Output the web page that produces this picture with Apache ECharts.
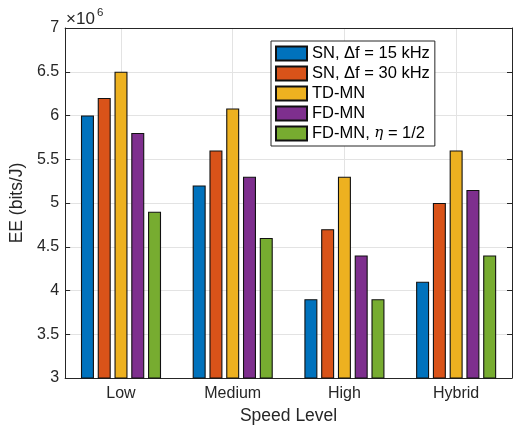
<!DOCTYPE html>
<html>
<head>
<meta charset="utf-8">
<script src="https://cdn.jsdelivr.net/npm/echarts@6/dist/echarts.min.js"></script>
<style>html,body{margin:0;padding:0;background:#fff}#c{width:518px;height:430px}</style>
</head>
<body>
<div id="c"></div>
<script>
const categories = ['Low', 'Medium', 'High', 'Hybrid'];
const seriesNames = ['SN, Δf = 15 kHz', 'SN, Δf = 30 kHz', 'TD-MN', 'FD-MN', 'FD-MN, η = 1/2'];
const snDf15 = [6.0, 5.2, 3.9, 4.1];
const snDf30 = [6.2, 5.6, 4.7, 5.0];
const tdMN = [6.5, 6.08, 5.3, 5.6];
const fdMN = [5.8, 5.3, 4.4, 5.15];
const fdMNHalf = [4.9, 4.6, 3.9, 4.4];
const yTicks = [3, 3.5, 4, 4.5, 5, 5.5, 6, 6.5, 7];
const colors = ['#0072BD', '#D95319', '#EDB120', '#7E2F8E', '#77AC30'];
const seriesData = [snDf15, snDf30, tdMN, fdMN, fdMNHalf];

const FONT = 'Liberation Sans';
const AX = '#262626';
const chart = echarts.init(document.getElementById('c'), null, {renderer: 'canvas'});

const series = seriesData.map((d, i) => ({
  name: seriesNames[i],
  type: 'bar',
  data: d,
  barWidth: 13,
  barGap: '29%',
  itemStyle: {color: colors[i], borderColor: '#111', borderWidth: 1.1},
  emphasis: {disabled: true}
}));

const legendFmt = (name) => {
  if (name.indexOf('η') >= 0) {
    const parts = name.split('η');
    return '{n|' + parts[0] + '}{i|η}{n|' + parts[1] + '}';
  }
  return '{n|' + name + '}';
};

chart.setOption({
  animation: false,
  color: colors,
  textStyle: {fontFamily: FONT},
  grid: {left: 65, right: 6, top: 28, bottom: 51, containLabel: false},
  legend: {
    orient: 'vertical',
    left: 271, top: 41,
    itemWidth: 31, itemHeight: 14, itemGap: 3,
    padding: [4, 5, 4, 4],
    borderColor: AX, borderWidth: 1, borderRadius: 0,
    backgroundColor: '#fff',
    icon: 'rect',
    selectedMode: false,
    data: seriesNames,
    formatter: legendFmt,
    textStyle: {
      fontFamily: FONT, fontSize: 16.5, color: '#000',
      rich: {
        n: {fontFamily: FONT, fontSize: 16.5, color: '#000'},
        i: {fontFamily: 'DejaVu Serif', fontStyle: 'italic', fontSize: 15, color: '#000'}
      }
    }
  },
  xAxis: [{
    type: 'category',
    data: categories,
    boundaryGap: true,
    name: 'Speed Level',
    nameLocation: 'middle',
    nameGap: 29,
    nameTextStyle: {fontFamily: FONT, fontSize: 17.5, color: AX},
    axisLine: {lineStyle: {color: AX, width: 1}},
    axisTick: {inside: true, alignWithLabel: true, length: 5, lineStyle: {color: AX}},
    axisLabel: {fontFamily: FONT, fontSize: 16, color: AX, margin: 8},
    splitLine: {show: true, alignWithLabel: true, lineStyle: {color: '#e3e3e3', width: 1}}
  }, {
    type: 'category',
    data: categories,
    position: 'top',
    boundaryGap: true,
    axisLine: {lineStyle: {color: AX, width: 1}},
    axisTick: {inside: true, alignWithLabel: true, length: 5, lineStyle: {color: AX}},
    axisLabel: {show: false},
    splitLine: {show: false}
  }],
  yAxis: [{
    type: 'value',
    min: 3, max: 7, interval: 0.5,
    name: 'EE (bits/J)',
    nameLocation: 'middle',
    nameGap: 30,
    nameTextStyle: {fontFamily: FONT, fontSize: 17.5, color: AX},
    axisLine: {show: true, lineStyle: {color: AX, width: 1}},
    axisTick: {show: true, inside: true, length: 5, lineStyle: {color: AX}},
    axisLabel: {fontFamily: FONT, fontSize: 16, color: AX, margin: 6,
      formatter: (v) => yTicks.indexOf(v) >= 0 ? String(v) : ''},
    splitLine: {show: true, lineStyle: {color: '#e3e3e3', width: 1}}
  }, {
    type: 'value',
    min: 3, max: 7, interval: 0.5,
    position: 'right',
    axisLine: {show: true, lineStyle: {color: AX, width: 1}},
    axisTick: {show: true, inside: true, length: 5, lineStyle: {color: AX}},
    axisLabel: {show: false},
    splitLine: {show: false}
  }],
  graphic: [
    {type: 'text', left: 66, top: 11, style: {text: '×10', font: '17px "Liberation Sans"', fill: AX}},
    {type: 'text', left: 97, top: 7, style: {text: '6', font: '11.5px "Liberation Sans"', fill: AX}}
  ],
  series: series
});
</script>
</body>
</html>
